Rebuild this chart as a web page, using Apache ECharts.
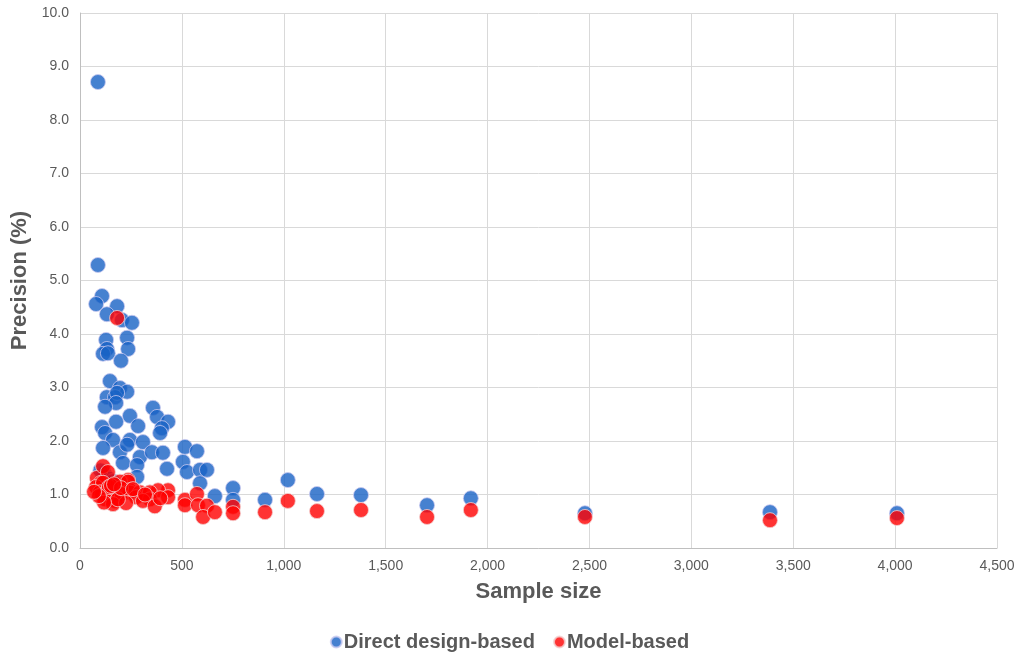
<!DOCTYPE html>
<html>
<head>
<meta charset="utf-8">
<script src="https://cdn.jsdelivr.net/npm/echarts@6/dist/echarts.min.js"></script>
<style>
html,body{margin:0;padding:0;background:#fff;}
#chart{width:1019px;height:657px;}
</style>
</head>
<body>
<div id="chart"></div>
<script>
// Direct design-based: sample size and precision (%)
const directX = [88, 88, 108, 79, 182, 132, 206, 255, 128, 231, 132, 113, 137, 236, 201, 147, 196, 231, 132, 172, 182, 177, 123, 358, 378, 432, 245, 285, 177, 108, 123, 162, 245, 309, 402, 393, 113, 196, 231, 294, 353, 407, 211, 280, 427, 280, 515, 574, 505, 525, 589, 623, 589, 662, 751, 751, 908, 1020, 1163, 1379, 1703, 1918, 2478, 3386, 4009, 118, 140, 160, 100];
const directY = [8.71, 5.29, 4.71, 4.56, 4.52, 4.37, 4.26, 4.21, 3.89, 3.93, 3.72, 3.63, 3.64, 3.72, 3.50, 3.12, 2.99, 2.92, 2.82, 2.82, 2.90, 2.71, 2.64, 2.62, 2.45, 2.36, 2.47, 2.28, 2.36, 2.26, 2.15, 2.02, 2.02, 1.98, 2.24, 2.15, 1.87, 1.79, 1.93, 1.70, 1.79, 1.78, 1.59, 1.55, 1.48, 1.33, 1.89, 1.81, 1.61, 1.42, 1.46, 1.46, 1.21, 0.97, 1.12, 0.90, 0.90, 1.27, 1.01, 0.99, 0.80, 0.93, 0.65, 0.67, 0.65, 1.40, 1.30, 1.25, 1.45];
// Model-based: sample size and precision (%)
const modelX = [83, 113, 137, 182, 236, 432, 383, 515, 574, 515, 579, 623, 604, 662, 751, 751, 908, 1020, 1163, 1379, 1703, 1918, 2478, 3386, 4009, 103, 79, 113, 196, 236, 245, 245, 294, 343, 432, 98, 152, 201, 172, 275, 343, 108, 132, 309, 123, 367, 162, 226, 186, 142, 118, 93, 69, 152, 201, 260, 319, 394, 167];
const modelY = [1.31, 1.53, 1.42, 4.30, 1.27, 1.08, 1.08, 0.90, 1.01, 0.80, 0.80, 0.79, 0.58, 0.67, 0.77, 0.65, 0.67, 0.88, 0.69, 0.71, 0.58, 0.71, 0.58, 0.52, 0.56, 1.22, 1.14, 1.22, 1.24, 1.24, 1.08, 1.04, 1.04, 1.04, 0.95, 1.04, 0.98, 1.01, 0.88, 0.95, 0.91, 1.00, 0.98, 0.88, 0.91, 0.78, 0.82, 0.84, 0.91, 1.14, 0.85, 0.97, 1.05, 1.16, 1.12, 1.10, 1.00, 0.93, 1.19];
const xTicks = {min: 0, max: 4500, interval: 500};
const yTicks = {min: 0, max: 10, interval: 1};
const seriesNames = ['Direct design-based', 'Model-based'];

const toPairs = (xs, ys) => xs.map((x, i) => [x, ys[i]]);

const chart = echarts.init(document.getElementById('chart'));
const fontFam = '"Liberation Sans", Arial, sans-serif';
chart.setOption({
  backgroundColor: '#ffffff',
  animation: false,
  textStyle: {fontFamily: fontFam},
  grid: {left: 80, right: 22, top: 13, bottom: 109, containLabel: false},
  legend: {
    data: seriesNames,
    bottom: 0,
    left: 'center',
    icon: 'circle',
    itemWidth: 11,
    itemHeight: 11,
    itemGap: 18,
    textStyle: {fontSize: 20, fontWeight: 'bold', color: '#595959', fontFamily: fontFam, padding: [0, 0, 0, -3]}
  },
  xAxis: {
    type: 'value',
    min: xTicks.min, max: xTicks.max, interval: xTicks.interval,
    name: 'Sample size',
    nameLocation: 'middle',
    nameGap: 33,
    nameTextStyle: {fontSize: 22, fontWeight: 'bold', color: '#595959'},
    axisLine: {show: true, lineStyle: {color: '#bfbfbf'}},
    axisTick: {show: false},
    axisLabel: {fontSize: 14, color: '#595959', margin: 11,
      formatter: v => v.toLocaleString('en-US')},
    splitLine: {show: true, lineStyle: {color: '#d9d9d9'}}
  },
  yAxis: {
    type: 'value',
    min: yTicks.min, max: yTicks.max, interval: yTicks.interval,
    name: 'Precision (%)',
    nameLocation: 'middle',
    nameGap: 48,
    nameTextStyle: {fontSize: 22, fontWeight: 'bold', color: '#595959'},
    axisLine: {show: true, lineStyle: {color: '#bfbfbf'}},
    axisTick: {show: false},
    axisLabel: {fontSize: 14, color: '#595959', margin: 11,
      formatter: v => v.toFixed(1)},
    splitLine: {show: true, lineStyle: {color: '#d9d9d9'}}
  },
  series: [
    {
      name: seriesNames[0],
      type: 'scatter',
      data: toPairs(directX, directY),
      symbol: 'circle',
      symbolSize: 15,
      itemStyle: {color: '#1862c4', borderColor: '#c9c9f0', borderWidth: 1}
    },
    {
      name: seriesNames[1],
      type: 'scatter',
      data: toPairs(modelX, modelY),
      symbol: 'circle',
      symbolSize: 15,
      itemStyle: {color: '#ff0000', borderColor: '#f2d0d0', borderWidth: 1}
    }
  ]
});
</script>
</body>
</html>
